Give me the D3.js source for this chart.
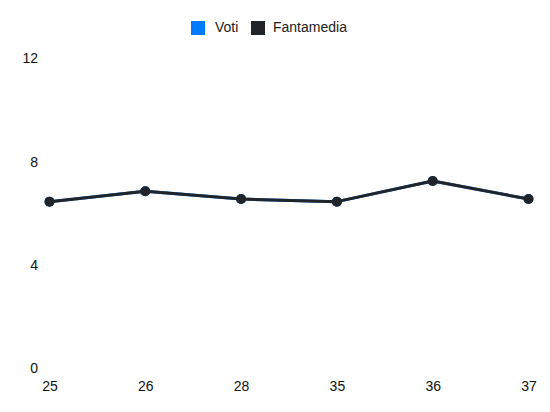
<!DOCTYPE html>
<html>
<head>
<meta charset="utf-8">
<script src="https://cdn.jsdelivr.net/npm/d3@7"></script>
<style>
  body { margin: 0; background: #fff; }
  svg { display: block; font-family: "Liberation Sans", Arial, sans-serif; }
</style>
</head>
<body>
<div id="chart"></div>
<script>
const giornate = ['25', '26', '28', '35', '36', '37'];
const voti = [6.45, 6.85, 6.55, 6.45, 7.25, 6.55];
const fantamedia = [6.45, 6.85, 6.55, 6.45, 7.25, 6.55];
const yTicks = [0, 4, 8, 12];

const width = 550, height = 412;

const svg = d3.select('#chart')
    .append('svg')
    .attr('width', width)
    .attr('height', height);

// scales
const x = d3.scalePoint()
    .domain(giornate)
    .range([49.5, 528.5]);

const y = d3.scaleLinear()
    .domain([0, 12])
    .range([368, 58.5]);

// y axis labels, no lines
const yAxis = d3.axisLeft(y).tickValues(yTicks).tickSize(0).tickPadding(0);
svg.append('g')
    .attr('transform', 'translate(38,0)')
    .call(yAxis)
    .call(g => g.select('.domain').remove())
    .call(g => g.selectAll('text')
        .attr('font-size', 14)
        .attr('font-family', '"Liberation Sans", Arial, sans-serif')
        .attr('fill', '#111'));

// x axis labels
const xAxis = d3.axisBottom(x).tickSize(0).tickPadding(0);
svg.append('g')
    .attr('transform', 'translate(0,381.5)')
    .call(xAxis)
    .call(g => g.select('.domain').remove())
    .call(g => g.selectAll('text')
        .attr('font-size', 14)
        .attr('font-family', '"Liberation Sans", Arial, sans-serif')
        .attr('fill', '#111'));

const series = [
    {name: 'Voti', values: voti, color: '#007bff'},
    {name: 'Fantamedia', values: fantamedia, color: '#212529'}
];

const line = d3.line()
    .x((d, i) => x(giornate[i]))
    .y(d => y(d));

series.forEach(s => {
    svg.append('path')
        .datum(s.values)
        .attr('fill', 'none')
        .attr('stroke', s.color)
        .attr('stroke-width', 3)
        .attr('stroke-linejoin', 'round')
        .attr('d', line);

    svg.append('g')
        .selectAll('circle')
        .data(s.values)
        .join('circle')
        .attr('cx', (d, i) => x(giornate[i]))
        .attr('cy', d => y(d))
        .attr('r', 5)
        .attr('fill', s.color);
});

// legend
const legend = svg.append('g');
const legendItems = [
    {name: 'Voti', color: '#007bff', x: 191, tx: 215},
    {name: 'Fantamedia', color: '#212529', x: 251, tx: 273}
];
legendItems.forEach(l => {
    legend.append('rect')
        .attr('x', l.x)
        .attr('y', 21)
        .attr('width', 14)
        .attr('height', 14)
        .attr('fill', l.color);
    legend.append('text')
        .attr('x', l.tx)
        .attr('y', 27.5)
        .attr('dy', '0.35em')
        .attr('font-size', 14)
        .attr('fill', '#222')
        .text(l.name);
});
</script>
</body>
</html>
